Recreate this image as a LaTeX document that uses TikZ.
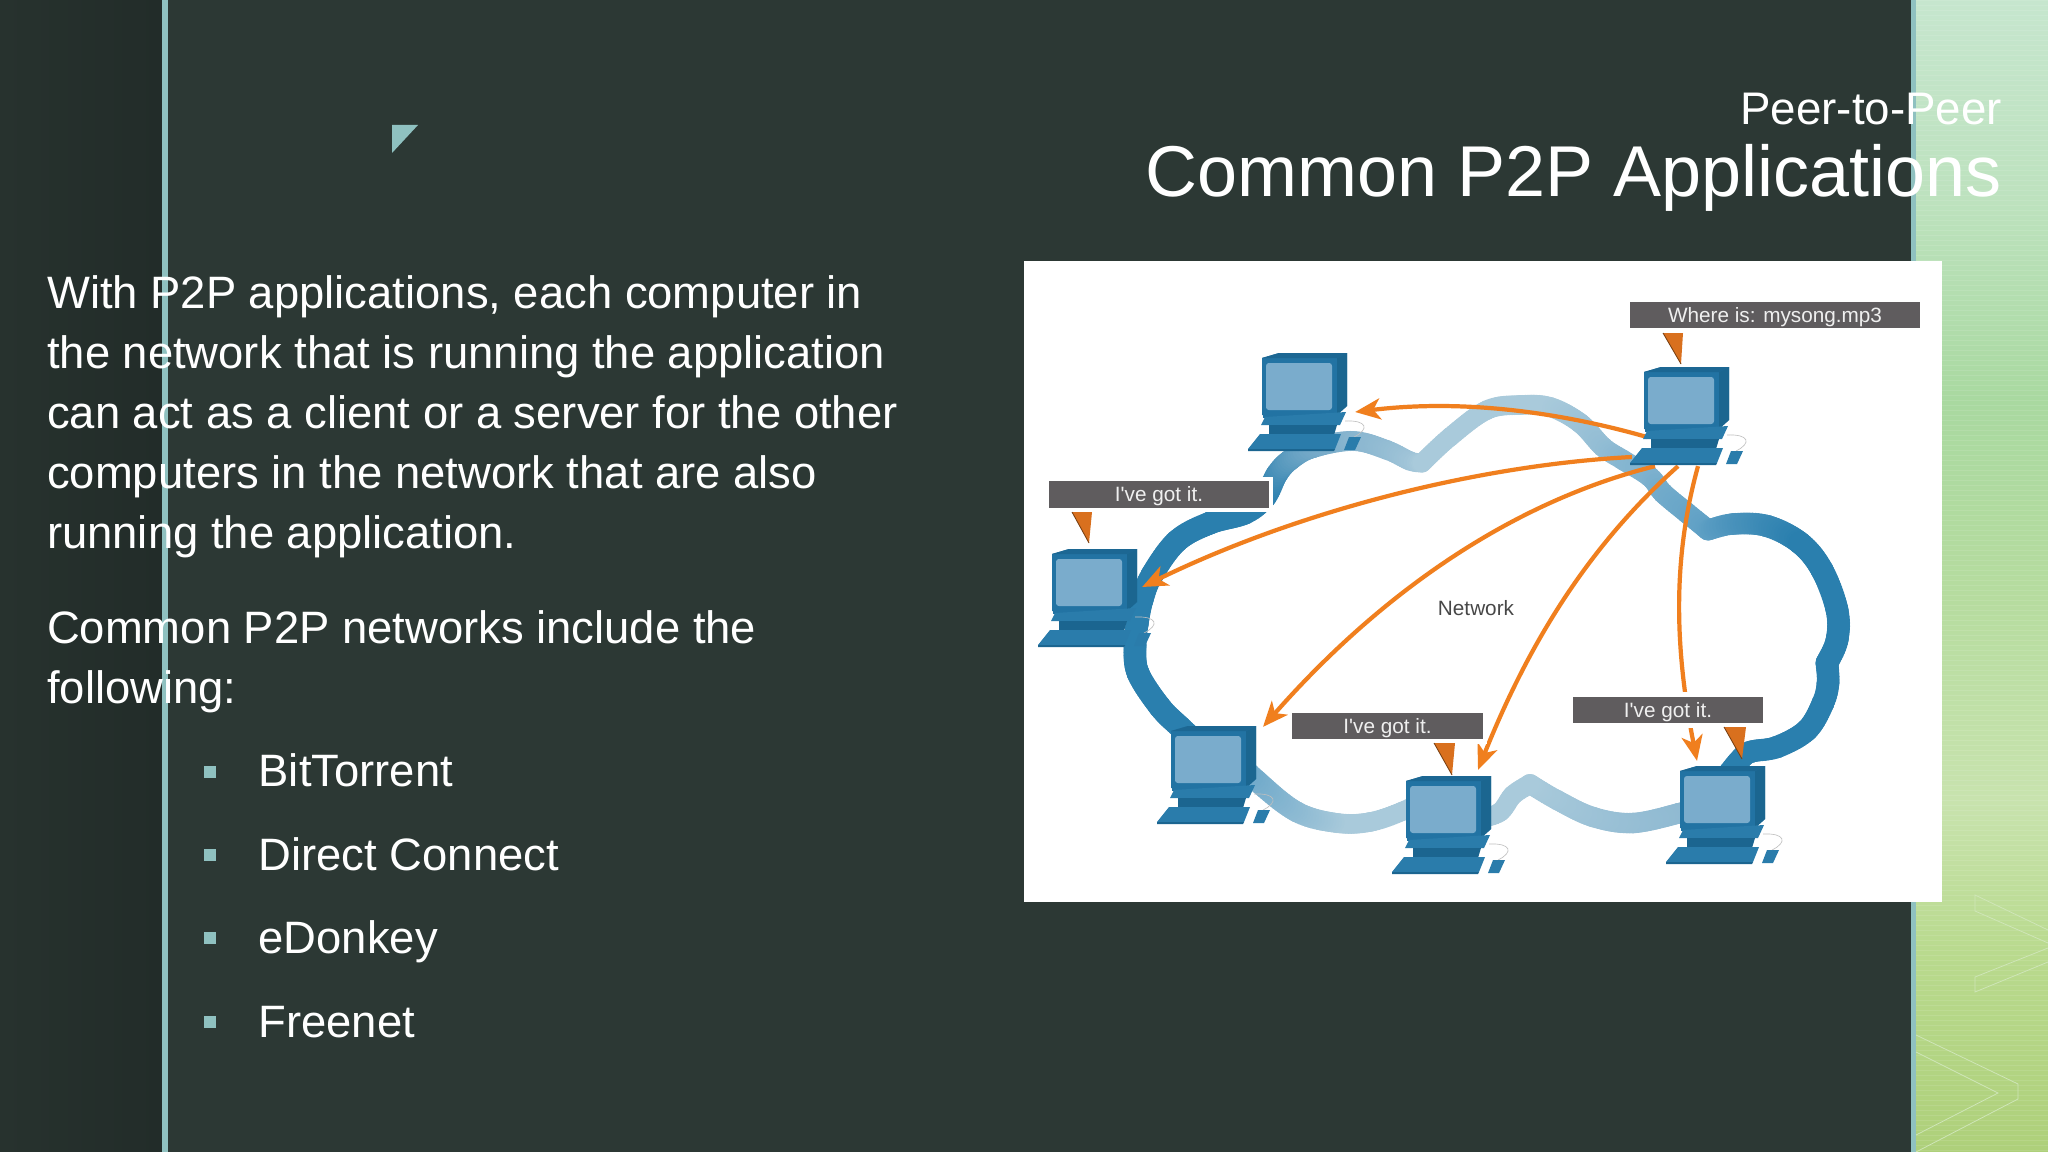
\documentclass[tikz,border=0pt]{standalone}
\usepackage{fontspec}
\setmainfont{Liberation Sans}
\newfontfamily\plainf{Liberation Sans}
\usetikzlibrary{arrows.meta}
\definecolor{bgmain}{HTML}{2C3834}
\definecolor{bgl}{HTML}{27322E}
\definecolor{bgr}{HTML}{222C29}
\definecolor{teal}{HTML}{8FC1C0}
\definecolor{gA}{HTML}{C6E6CE}
\definecolor{gB}{HTML}{BDE2BE}
\definecolor{gC}{HTML}{A9D9A0}
\definecolor{gD}{HTML}{B6DC9F}
\definecolor{gE}{HTML}{C8E3AE}
\definecolor{gF}{HTML}{B9DA8E}
\definecolor{gG}{HTML}{AED07A}
\definecolor{chev}{HTML}{CFE6B8}
\definecolor{bDark}{HTML}{2A7FAE}
\definecolor{bMid}{HTML}{5FA0C5}
\definecolor{bSoft}{HTML}{88B5CF}
\definecolor{bLight}{HTML}{A9CADB}
\definecolor{pcFront}{HTML}{2273A3}
\definecolor{pcSide}{HTML}{1B6690}
\definecolor{pcScreen}{HTML}{7AACCC}
\definecolor{pcKey}{HTML}{2A7CAB}
\definecolor{pcDark}{HTML}{1B6590}
\definecolor{arrowor}{HTML}{F07F1E}
\definecolor{tailor}{HTML}{D9701E}
\definecolor{labgrey}{HTML}{5F5C5E}
\pgfdeclareverticalshading{greenpanel}{100bp}{color(0bp)=(gG);color(25bp)=(gG);color(33.7bp)=(gF);color(40.3bp)=(gE);color(49bp)=(gD);color(57.6bp)=(gC);color(66.3bp)=(gB);color(75bp)=(gA);color(100bp)=(gA)}
% band through points (first and last entries only set the end tangents): colour #1 to #2, width #3 to #4
\newcommand\bandseg[5]{%
 \foreach \bq [count=\bk] in {#5} {\global\let\bn\bk}%
 \foreach \bx/\by [count=\bk] in {#5} {%
  \ifnum\bk>3\relax
   \pgfmathsetmacro\dax{\bxa-\bxb}\pgfmathsetmacro\day{\bya-\byb}%
   \pgfmathsetmacro\dcx{\bxc-\bxb}\pgfmathsetmacro\dcy{\byc-\byb}%
   \pgfmathsetmacro\ddx{\bx-\bxb}\pgfmathsetmacro\ddy{\by-\byb}%
   \pgfmathtruncatemacro\bs{max(2,ceil(veclen(\dcx,\dcy)/3))}%
   \foreach \bi in {0,...,\bs} {%
    \pgfmathsetmacro\bt{\bi/\bs}%
    \pgfmathsetmacro\px{\bxb+0.5*(((\dcx)-(\dax))*\bt+(2*(\dax)+4*(\dcx)-(\ddx))*\bt*\bt+(0-(\dax)-3*(\dcx)+(\ddx))*\bt*\bt*\bt)}%
    \pgfmathsetmacro\py{\byb+0.5*(((\dcy)-(\day))*\bt+(2*(\day)+4*(\dcy)-(\ddy))*\bt*\bt+(0-(\day)-3*(\dcy)+(\ddy))*\bt*\bt*\bt)}%
    \pgfmathsetmacro\pp{100*(\bk-4+\bt)/(\bn-3)}%
    \pgfmathsetmacro\rr{(#3+(#4-#3)*\pp/100)*0.7113}%
    \fill[color=#2!\pp!#1] (\px,\py) circle[radius=\rr pt];
   }%
  \fi
  \global\let\bxa\bxb\global\let\bya\byb
  \global\let\bxb\bxc\global\let\byb\byc
  \global\let\bxc\bx\global\let\byc\by
 }}
\newcommand\labtxt[1]{\raisebox{-10pt}[0pt][0pt]{#1}}
\tikzset{
  bodytxt/.style={anchor=base west,text=white,inner sep=0pt,font=\fontsize{64.6}{70}\selectfont},
  titlesub/.style={anchor=base east,text=white,inner sep=0pt,font=\fontsize{65}{70}\selectfont},
  titlemain/.style={anchor=base east,text=white,inner sep=0pt,font=\fontsize{102.4}{110}\selectfont},
  bul/.style={fill=teal,minimum size=0.6cm,inner sep=0pt},
  lab/.style={fill=labgrey,draw=white,line width=6.4pt,inner sep=0pt,text=white!90!labgrey,minimum height=1.55cm,font=\plainf\fontsize{29.5}{32}\selectfont},
  net/.style={text=black!72,inner sep=0pt,font=\fontsize{29.5}{32}\selectfont},
  conn/.style={draw=arrowor,line width=6pt,-{Stealth[length=36pt,width=30pt,inset=10pt]}},
  tail/.style={fill=tailor},
  tailedge/.style={draw=black!45!tailor,line width=1.2pt},
  pcbox/.style={minimum width=5.2cm,minimum height=4.95cm,inner sep=0pt},
  pc/.pic={
    \fill[pcFront] (0,5)--(17,0)--(85,0)--(85,53)--(75,62)--(0,62)--cycle;
    \fill[pcSide] (75,5)--(85,0)--(85,53)--(75,62)--cycle;
    \fill[pcDark!85!pcFront] (0,5)--(17,0)--(85,0)--(75,5)--cycle;
    \fill[pcScreen,rounded corners=4pt] (4,10) rectangle (70,57);
    \fill[pcFront] (1,62) rectangle (76,65);
    \fill[pcKey] (-1,72)--(3,64)--(84,59)--(78,72)--cycle;
    \fill[pcDark] (7,72)--(75,72)--(72,82)--(7,82)--cycle;
    \fill[pcKey] (-14,96)--(-2,81)--(79,81)--(73,96)--cycle;
    \fill[pcDark] (-14,96)--(73,96)--(72,98)--(-14,98)--cycle;
    \draw[black!25,line width=0.9pt] (83,68) .. controls (105,67) and (108,76) .. (92,84);
    \fill[pcKey] (82,97)--(87,84)--(99,84)--(93,97)--cycle;
  }
}
\begin{document}
\begin{tikzpicture}[x=0.05cm,y=-0.05cm]
\useasboundingbox (0,0) rectangle (2048,1152);
% background
\fill[bgmain] (0,0) rectangle (2048,1152);
\shade[left color=bgl,right color=bgr] (0,0) rectangle (162,1152);
\fill[teal] (162,0) rectangle (168,1152);
\fill[teal] (1911,0) rectangle (1916,1152);
\shade[shading=greenpanel] (1916,0) rectangle (2048,1152);
\foreach \yy in {0,5,...,1150} {\draw[white,opacity=0.1,line width=0.8pt] (1916,\yy) -- (2048,\yy);}
\draw[chev,line width=1.1pt] (2048,930) -- (1975,895) -- (1975,911) -- (2048,943);
\draw[chev,line width=1.1pt] (2048,948) -- (1975,977) -- (1975,992) -- (2048,962);
\draw[chev,line width=1.1pt] (1916,1035) -- (2018,1084) -- (2018,1099) -- (1916,1152);
\draw[chev,line width=1.1pt] (1916,1052) -- (1998,1093) -- (1916,1135);
\fill[teal] (392,125) -- (418,125) -- (392,153) -- cycle;
% image panel
\fill[white] (1024,261) rectangle (1942,902);
% cloud band
\bandseg{bDark}{bDark}{23}{23}{1205/750,1205/750,1180/727,1160/707,1138/673,1135/645,1137/625,1142/600,1152/575,1177/541,1210/523,1245/513,1265/497,1277/474}
\bandseg{bDark}{bSoft}{23}{20}{1245/513,1265/497,1277/474,1290/460,1312/448,1353/441,1387/450}
\bandseg{bSoft}{bLight}{20}{19}{1312/448,1353/441,1387/450,1410/461,1422/463,1422/463}
\bandseg{bLight}{bLight}{19}{20}{1422/463,1422/463,1450/437,1487/410,1520/405,1550/407,1580/423}
\bandseg{bLight}{bMid}{20}{21}{1520/405,1550/407,1580/423,1603/447,1623/460,1650/477,1663/493,1687/513,1708/530,1708/530}
\bandseg{bMid}{bDark}{21}{23}{1708/530,1708/530,1733/524,1767/526,1800/543,1822/570}
\bandseg{bDark}{bDark}{23}{23}{1767/526,1800/543,1822/570,1837/610,1837/640,1827/663,1827/663}
\bandseg{bDark}{bDark}{23}{22}{1827/663,1827/663,1828/683,1823/703,1807/730,1777/747,1750/752,1738/762,1725/778,1725/778}
\bandseg{bSoft}{bLight}{21}{20}{1700/807,1700/807,1680/813,1633/823,1593/817,1557/800,1530/784,1530/784}
\bandseg{bLight}{bLight}{20}{19}{1530/784,1530/784,1513/795,1500/812,1480/818,1460/815,1460/815}
\bandseg{bLight}{bLight}{19}{20}{1430/797,1430/797,1403/811,1370/822,1337/823,1297/812}
\bandseg{bLight}{bMid}{20}{23}{1370/822,1337/823,1297/812,1257/781,1225/750,1225/750}
% computer frames
\node[pcbox] (pcA-box) at (1300,402.5) {};
\node[pcbox] (pcB-box) at (1682,416.5) {};
\node[pcbox] (pcC-box) at (1090,598.5) {};
\node[pcbox] (pcD-box) at (1209,775.5) {};
\node[pcbox] (pcE-box) at (1444,825.5) {};
\node[pcbox] (pcF-box) at (1718,815.5) {};
% connectors
\draw[conn] ([shift={(17,20.5)}]pcB-box.west) .. controls (1570,415) and (1470,398) .. ([shift={(3,9.5)}]pcA-box.east);
\draw[conn] ([shift={(2,40.5)}]pcB-box.west) .. controls (1480,465) and (1300,510) .. ([shift={(0,-11.5)}]pcC-box.east);
\draw[conn] ([shift={(-27,0)}]pcB-box.south) .. controls (1500,505) and (1370,605) .. ([shift={(54,1)}]pcD-box.north);
\draw[conn] ([shift={(-4,0)}]pcB-box.south) .. controls (1590,545) and (1530,640) .. ([shift={(34,-6)}]pcE-box.north);
\draw[conn] ([shift={(16,0)}]pcB-box.south) .. controls (1672,560) and (1675,650) .. ([shift={(-21,-5)}]pcF-box.north);
% computers
\pic at (1262,353) {pc};
\pic at (1644,367) {pc};
\pic at (1052,549) {pc};
\pic at (1171,726) {pc};
\pic at (1406,776) {pc};
\pic at (1680,766) {pc};
% speech labels
\node[lab,minimum width=14.72cm] (lw) at (1775,315) {\labtxt{Where is: mysong.mp3}};
\node[lab,minimum width=11.22cm] (lc) at (1159,494.5) {\labtxt{I've got it.}};
\node[lab,minimum width=9.77cm] (ld) at (1387.5,726) {\labtxt{I've got it.}};
\node[lab,minimum width=9.72cm] (lf) at (1668,710) {\labtxt{I've got it.}};
% tails
\fill[tail] (1663,333) -- (1683,333) -- (1681,364) -- cycle; \draw[tailedge] (1663,333) -- (1681,364);
\fill[tail] (1072,512) -- (1092,512) -- (1089,543) -- cycle; \draw[tailedge] (1072,512) -- (1089,543);
\fill[tail] (1434,743) -- (1455,743) -- (1452,775) -- cycle; \draw[tailedge] (1434,743) -- (1452,775);
\fill[tail] (1724,727) -- (1746,727) -- (1742,759) -- cycle; \draw[tailedge] (1724,727) -- (1742,759);
\node[net] (netlabel) at (1476,608) {Network};
% titles
\node[titlesub] (sub) at (2002,125) {Peer-to-Peer};
\node[titlemain] (tt) at (2002,197) {Common P2P Applications};
% body
\node[bodytxt] (l1) at (47,308) {With P2P applications, each computer in};
\node[bodytxt] (l2) at (47,368) {the network that is running the application};
\node[bodytxt] (l3) at (47,428) {can act as a client or a server for the other};
\node[bodytxt] (l4) at (47,488) {computers in the network that are also};
\node[bodytxt] (l5) at (47,548) {running the application.};
\node[bodytxt] (l6) at (47,643) {Common P2P networks include the};
\node[bodytxt] (l7) at (47,703) {following:};
\node[bul] (b1) at (209.5,772) {};
\node[bul] (b2) at (209.5,855) {};
\node[bul] (b3) at (209.5,938) {};
\node[bul] (b4) at (209.5,1022) {};
\node[bodytxt] (t1) at (258.5,786) {BitTorrent};
\node[bodytxt] (t2) at (258.5,870) {Direct Connect};
\node[bodytxt] (t3) at (258.5,953) {eDonkey};
\node[bodytxt] (t4) at (258.5,1037) {Freenet};
\end{tikzpicture}
\end{document}
